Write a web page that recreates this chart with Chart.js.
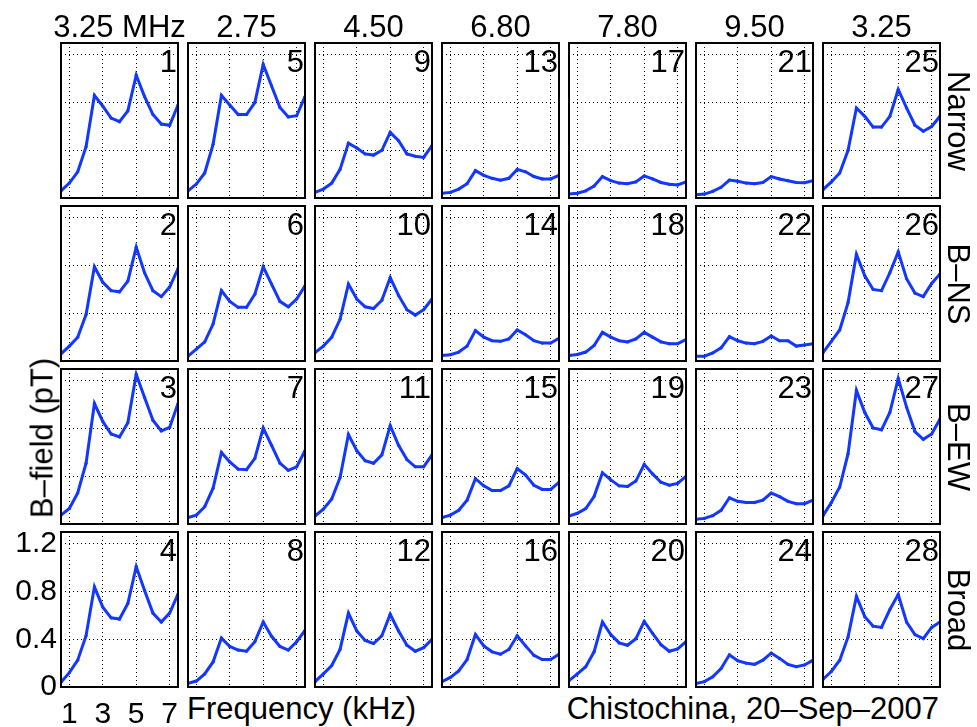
<!DOCTYPE html>
<html>
<head>
<meta charset="utf-8">
<script src="https://cdn.jsdelivr.net/npm/chart.js@4.4.1/dist/chart.umd.min.js"></script>
<style>
  body { margin: 0; background: #fff; }
  #fig { position: relative; width: 977px; height: 727px; overflow: hidden;
         font-family: "Liberation Sans", Arial, Helvetica, sans-serif; }
  #fig canvas { position: absolute; }
  .t { position: absolute; font-size: 31px; line-height: 1; white-space: nowrap; color: #000; }
</style>
</head>
<body>
<div id="fig"></div>
<script>
// frequency axis (kHz)
const freqs = [0.5, 1, 1.5, 2, 2.5, 3, 3.5, 4, 4.5, 5, 5.5, 6, 6.5, 7, 7.5];
const xTicks = [1, 3, 5, 7];
const yTicks = [0, 0.4, 0.8, 1.2];
const columnTitles = ['3.25 MHz', '2.75', '4.50', '6.80', '7.80', '9.50', '3.25'];
const rowNames = ['Narrow', 'B\u2013NS', 'B\u2013EW', 'Broad'];

// B-field (pT), one array per panel
const panel1  = [0.06, 0.125, 0.22, 0.43, 0.86, 0.77, 0.67, 0.64, 0.73, 1.03, 0.85, 0.70, 0.62, 0.61, 0.78];
const panel2  = [0.06, 0.125, 0.20, 0.39, 0.79, 0.66, 0.59, 0.58, 0.67, 0.955, 0.74, 0.59, 0.54, 0.62, 0.775];
const panel3  = [0.075, 0.13, 0.26, 0.51, 1.01, 0.86, 0.755, 0.73, 0.85, 1.255, 1.06, 0.87, 0.78, 0.81, 1.01];
const panel4  = [0.04, 0.12, 0.225, 0.43, 0.84, 0.67, 0.58, 0.57, 0.70, 1.01, 0.81, 0.62, 0.545, 0.62, 0.78];
const panel5  = [0.06, 0.117, 0.21, 0.45, 0.86, 0.78, 0.70, 0.70, 0.80, 1.12, 0.94, 0.76, 0.68, 0.69, 0.85];
const panel6  = [0.04, 0.10, 0.16, 0.31, 0.59, 0.50, 0.45, 0.45, 0.56, 0.79, 0.645, 0.50, 0.455, 0.52, 0.63];
const panel7  = [0.053, 0.075, 0.145, 0.30, 0.60, 0.52, 0.46, 0.455, 0.55, 0.805, 0.66, 0.51, 0.45, 0.48, 0.615];
const panel8  = [0.03, 0.05, 0.11, 0.21, 0.41, 0.34, 0.31, 0.30, 0.38, 0.545, 0.425, 0.34, 0.31, 0.38, 0.475];
const panel9  = [0.047, 0.075, 0.125, 0.24, 0.46, 0.42, 0.37, 0.36, 0.40, 0.55, 0.48, 0.37, 0.35, 0.34, 0.44];
const panel10 = [0.07, 0.125, 0.20, 0.35, 0.645, 0.52, 0.455, 0.44, 0.51, 0.70, 0.55, 0.43, 0.385, 0.43, 0.52];
const panel11 = [0.067, 0.125, 0.21, 0.39, 0.75, 0.615, 0.53, 0.51, 0.58, 0.825, 0.66, 0.54, 0.48, 0.48, 0.58];
const panel12 = [0.045, 0.11, 0.18, 0.315, 0.62, 0.47, 0.39, 0.365, 0.43, 0.61, 0.47, 0.35, 0.30, 0.33, 0.40];
const panel13 = [0.04, 0.047, 0.075, 0.12, 0.23, 0.19, 0.165, 0.15, 0.165, 0.24, 0.22, 0.18, 0.16, 0.16, 0.19];
const panel14 = [0.047, 0.053, 0.075, 0.125, 0.255, 0.20, 0.17, 0.165, 0.185, 0.26, 0.22, 0.17, 0.15, 0.15, 0.19];
const panel15 = [0.053, 0.075, 0.115, 0.20, 0.38, 0.32, 0.28, 0.28, 0.32, 0.465, 0.41, 0.325, 0.29, 0.29, 0.35];
const panel16 = [0.045, 0.08, 0.135, 0.23, 0.44, 0.345, 0.295, 0.275, 0.315, 0.43, 0.345, 0.265, 0.23, 0.23, 0.275];
const panel17 = [0.033, 0.04, 0.06, 0.10, 0.18, 0.145, 0.125, 0.12, 0.135, 0.185, 0.16, 0.13, 0.115, 0.11, 0.135];
const panel18 = [0.047, 0.055, 0.075, 0.13, 0.24, 0.20, 0.17, 0.16, 0.185, 0.24, 0.20, 0.16, 0.145, 0.145, 0.18];
const panel19 = [0.067, 0.09, 0.13, 0.23, 0.43, 0.37, 0.32, 0.315, 0.36, 0.50, 0.42, 0.35, 0.325, 0.34, 0.40];
const panel20 = [0.053, 0.11, 0.17, 0.295, 0.545, 0.44, 0.37, 0.35, 0.405, 0.55, 0.45, 0.355, 0.30, 0.32, 0.38];
const panel21 = [0.028, 0.033, 0.055, 0.09, 0.15, 0.14, 0.125, 0.12, 0.13, 0.18, 0.16, 0.145, 0.13, 0.128, 0.145];
const panel22 = [0.04, 0.04, 0.067, 0.11, 0.205, 0.17, 0.15, 0.145, 0.165, 0.21, 0.17, 0.17, 0.125, 0.135, 0.145];
const panel23 = [0.04, 0.047, 0.07, 0.115, 0.22, 0.19, 0.18, 0.18, 0.20, 0.26, 0.23, 0.19, 0.17, 0.17, 0.20];
const panel24 = [0.03, 0.045, 0.085, 0.155, 0.27, 0.22, 0.20, 0.19, 0.225, 0.285, 0.24, 0.19, 0.17, 0.185, 0.225];
const panel25 = [0.07, 0.135, 0.21, 0.40, 0.755, 0.685, 0.595, 0.595, 0.685, 0.91, 0.755, 0.61, 0.56, 0.60, 0.685];
const panel26 = [0.07, 0.165, 0.26, 0.49, 0.895, 0.715, 0.60, 0.59, 0.74, 0.915, 0.69, 0.57, 0.54, 0.65, 0.73];
const panel27 = [0.07, 0.18, 0.31, 0.59, 1.12, 0.935, 0.805, 0.79, 0.935, 1.22, 0.98, 0.775, 0.71, 0.755, 0.88];
const panel28 = [0.065, 0.13, 0.225, 0.42, 0.76, 0.59, 0.51, 0.50, 0.65, 0.775, 0.545, 0.44, 0.405, 0.50, 0.545];

const panels = [panel1, panel2, panel3, panel4, panel5, panel6, panel7, panel8, panel9, panel10,
  panel11, panel12, panel13, panel14, panel15, panel16, panel17, panel18, panel19, panel20,
  panel21, panel22, panel23, panel24, panel25, panel26, panel27, panel28];

// layout of the plot boxes
const colLeft = [61, 188, 315, 442, 569, 696, 823];
const rowTop = [43, 206, 369, 532];
const boxW = 117, boxH = 155;
const BLUE = 'rgb(18, 55, 255)';
const FONT = '"Liberation Sans", Arial, Helvetica, sans-serif';

const fig = document.getElementById('fig');

// baseline of 31px Liberation Sans with line-height 1
const BASE = 31 * 0.8465;

function label(text, x, baseline, align) {
  const d = document.createElement('div');
  d.className = 't';
  d.textContent = text;
  d.style.top = (baseline - BASE) + 'px';
  if (align === 'right') {
    d.style.right = (977 - x) + 'px';
  } else if (align === 'center') {
    d.style.left = x + 'px';
    d.style.transform = 'translateX(-50%)';
  } else {
    d.style.left = x + 'px';
  }
  fig.appendChild(d);
}

function rotLabel(text, cx, cy, deg) {
  const d = document.createElement('div');
  d.className = 't';
  d.textContent = text;
  d.style.left = cx + 'px';
  d.style.top = cy + 'px';
  d.style.transform = 'translate(-50%, -50%) rotate(' + deg + 'deg)';
  fig.appendChild(d);
}

const boxPlugin = {
  id: 'box',
  afterDraw(chart) {
    const {ctx, chartArea: a} = chart;
    ctx.save();
    ctx.strokeStyle = '#000';
    ctx.lineWidth = 2;
    ctx.strokeRect(a.left, a.top, a.right - a.left, a.bottom - a.top);
    ctx.restore();
  }
};

function makePanel(values, left, top, withTicks) {
  const c = document.createElement('canvas');
  let cw, ch, cl, ct;
  if (withTicks) {
    cl = 0; ct = top - 2;
    cw = left + boxW + 2; ch = 727 - ct;
  } else {
    cl = left - 2; ct = top - 2;
    cw = boxW + 4; ch = boxH + 4;
  }
  c.width = cw; c.height = ch;
  c.style.left = cl + 'px'; c.style.top = ct + 'px';
  c.style.width = cw + 'px'; c.style.height = ch + 'px';
  fig.appendChild(c);

  const yW = withTicks ? left : 2;
  const xH = withTicks ? ch - 2 - boxH : 2;

  new Chart(c, {
    type: 'line',
    data: {
      datasets: [{
        data: freqs.map((f, i) => ({x: f, y: values[i]})),
        borderColor: BLUE,
        backgroundColor: BLUE,
        borderWidth: 3,
        pointRadius: 1.6,
        pointBorderWidth: 0,
        pointHoverRadius: 0,
        tension: 0
      }]
    },
    options: {
      responsive: false,
      animation: false,
      devicePixelRatio: 1,
      events: [],
      layout: {padding: {left: 0, top: 2, right: 2, bottom: 0}},
      plugins: {legend: {display: false}, tooltip: {enabled: false}},
      scales: {
        x: {
          type: 'linear', min: 0.5, max: 7.5,
          afterBuildTicks: s => { s.ticks = xTicks.map(v => ({value: v})); },
          afterFit: s => { s.height = xH; s.paddingLeft = 0; s.paddingRight = 0; },
          grid: {color: '#000', lineWidth: 1, drawTicks: false},
          border: {display: false, dash: [1, 3]},
          ticks: {display: withTicks, color: '#000', padding: 10, maxRotation: 0,
                  font: {family: FONT, size: 30}}
        },
        y: {
          type: 'linear', min: 0, max: 1.3,
          afterBuildTicks: s => { s.ticks = yTicks.map(v => ({value: v})); },
          afterFit: s => { s.width = yW; s.paddingTop = 0; s.paddingBottom = 0; },
          grid: {color: '#000', lineWidth: 1, drawTicks: false},
          border: {display: false, dash: [1, 3]},
          ticks: {display: withTicks, color: '#000', padding: 4,
                  font: {family: FONT, size: 30}}
        }
      }
    },
    plugins: [boxPlugin]
  });
}

for (let col = 0; col < 7; col++) {
  for (let row = 0; row < 4; row++) {
    const n = col * 4 + row + 1;
    makePanel(panels[n - 1], colLeft[col], rowTop[row], col === 0 && row === 3);
    label(String(n), colLeft[col] + boxW - 1, rowTop[row] + 29, 'right');
  }
  label(columnTitles[col], colLeft[col] + boxW / 2, 37, 'center');
}

rowNames.forEach((name, row) => {
  rotLabel(name, 957.7, rowTop[row] + boxH / 2, 90);
});

rotLabel('B\u2013field (pT)', 42.3, 437.5, -90);
label('Frequency (kHz)', 187, 719, 'left');
label('Chistochina, 20\u2013Sep\u20132007', 939, 719, 'right');
</script>
</body>
</html>
